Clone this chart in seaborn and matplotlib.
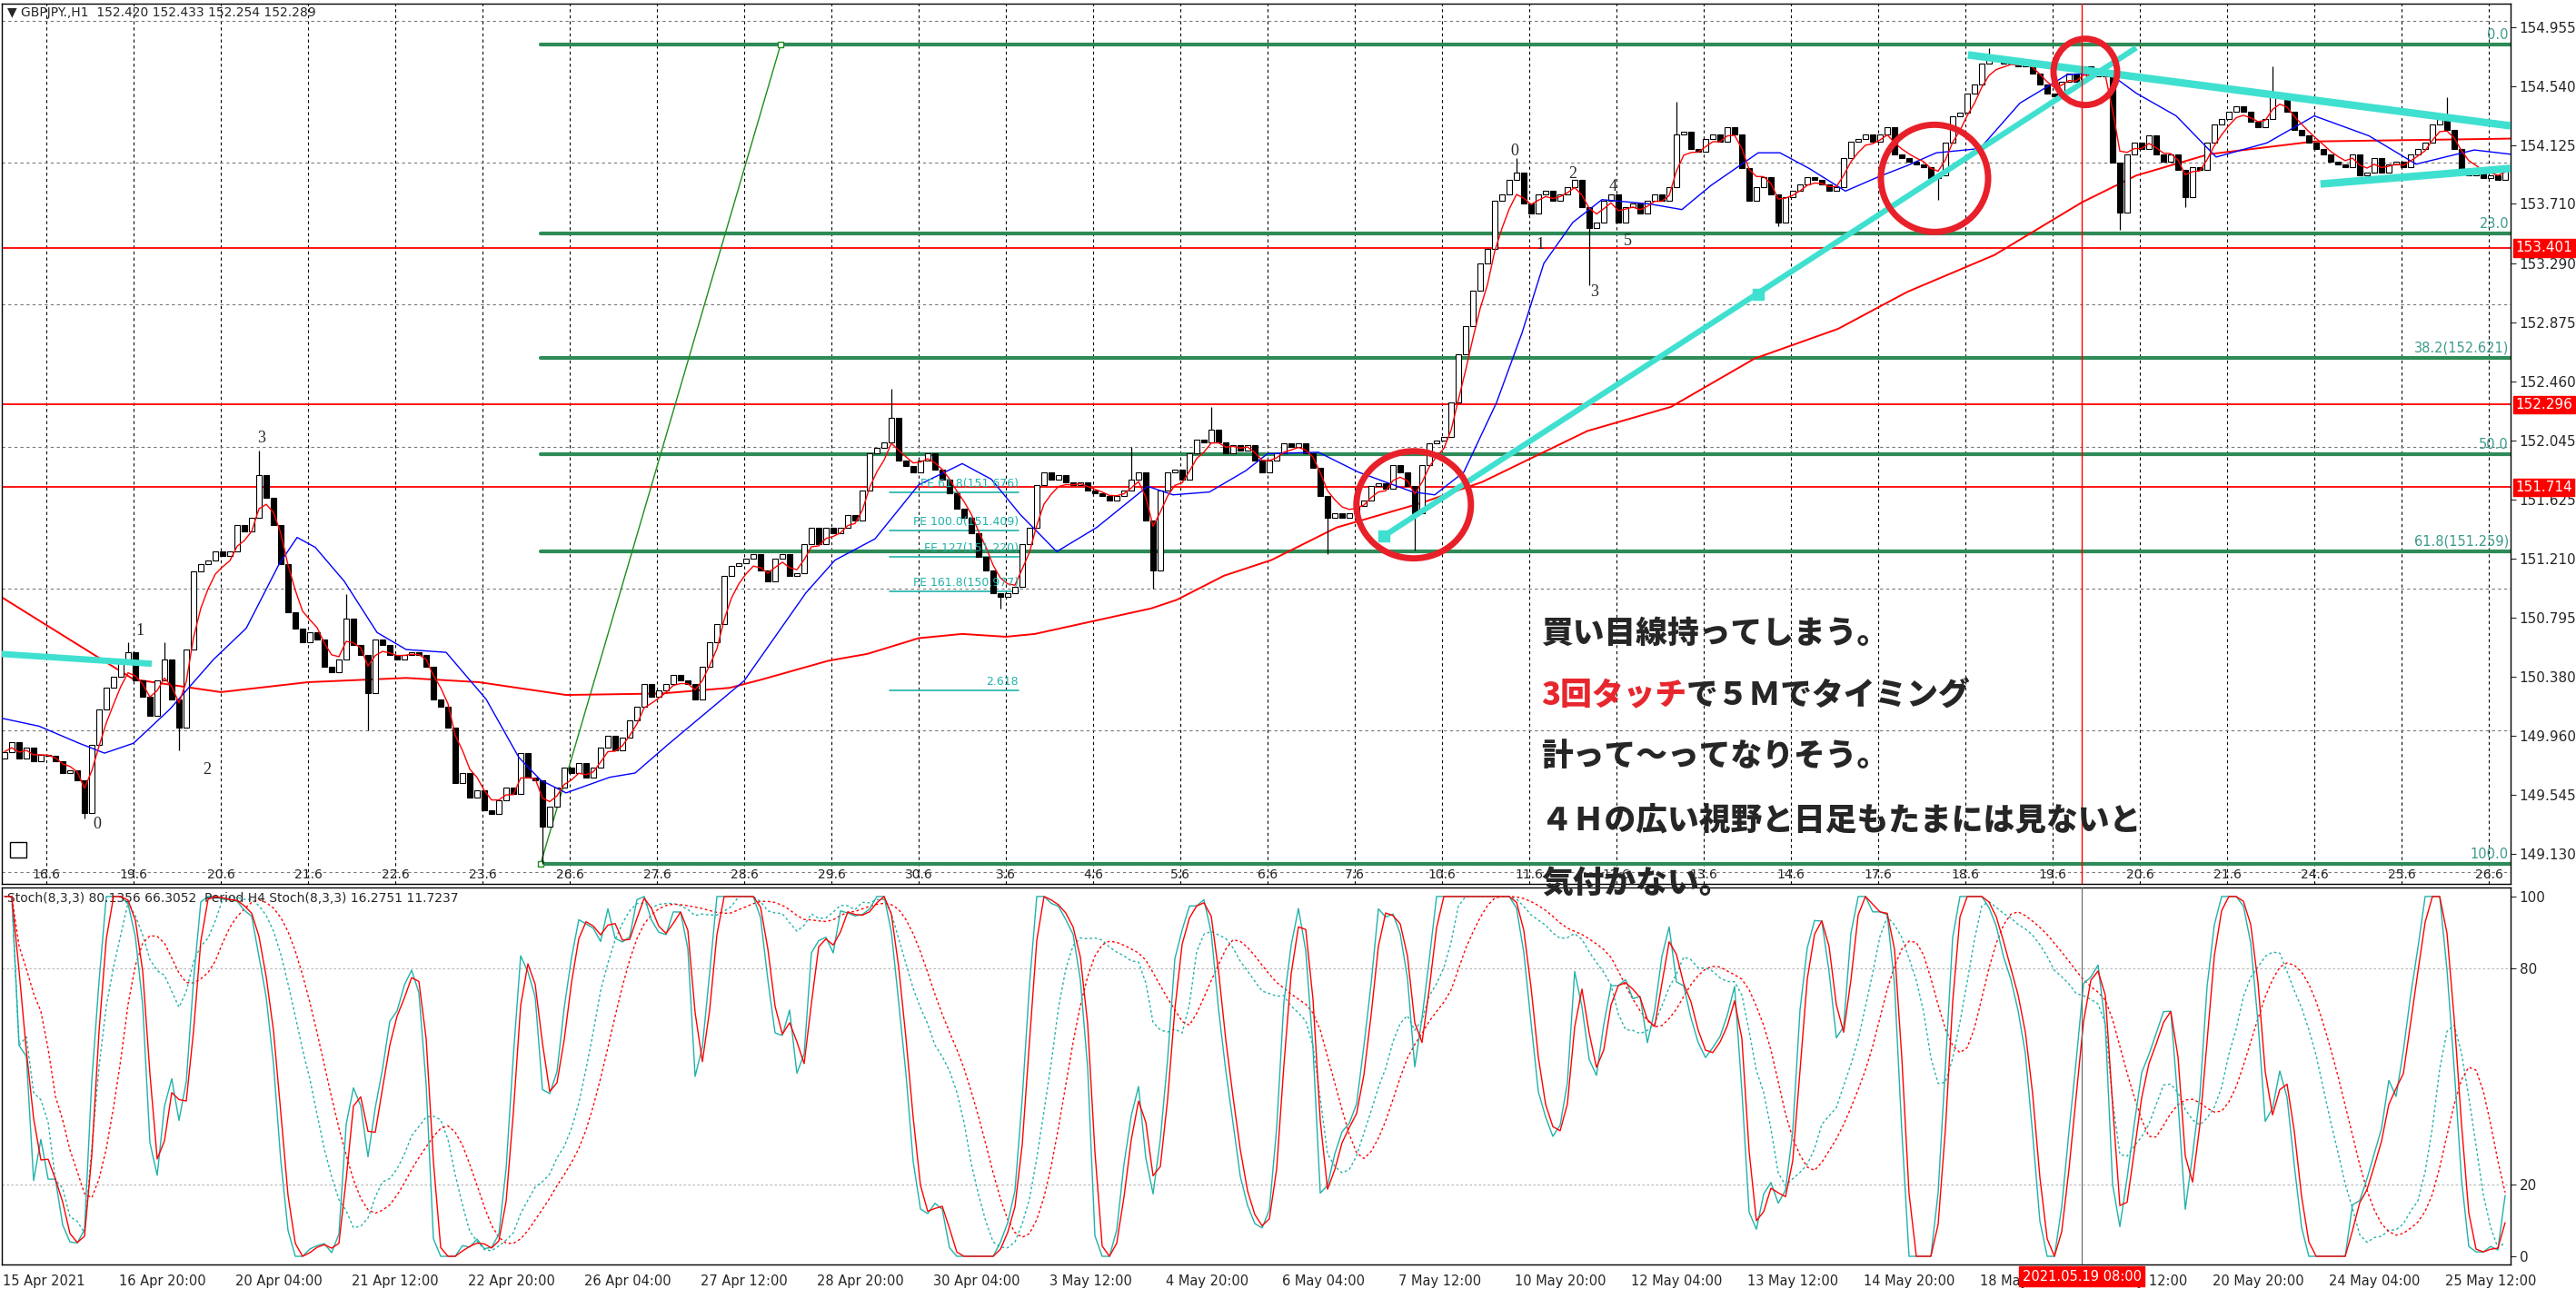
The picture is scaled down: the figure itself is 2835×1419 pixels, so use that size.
import numpy as np
import pandas as pd
import matplotlib
matplotlib.use("Agg")
import matplotlib.pyplot as plt
import seaborn as sns
from matplotlib.patches import Ellipse, Rectangle

first_open = 149.80
closes = [
    149.85, 149.92, 149.80, 149.88, 149.78, 149.83,
    149.82, 149.78, 149.70, 149.72, 149.65, 149.42, 149.90, 150.15, 150.30, 150.38, 150.50, 150.55,
    150.35, 150.24, 150.10, 150.35, 150.50, 150.22, 150.02, 150.57, 151.12, 151.17, 151.20, 151.26,
    151.23, 151.26, 151.45, 151.40, 151.50, 151.80, 151.64, 151.45, 151.17, 150.83, 150.72, 150.62,
    150.69, 150.64, 150.45, 150.41, 150.50, 150.79, 150.60, 150.53, 150.26, 150.64, 150.60, 150.53,
    150.50, 150.53, 150.55, 150.53, 150.45, 150.22, 150.17, 150.02, 149.63, 149.70, 149.53, 149.58,
    149.44, 149.41, 149.51, 149.60, 149.55, 149.84, 149.67, 149.65, 149.32, 149.46, 149.60, 149.74,
    149.70, 149.77, 149.67, 149.74, 149.88, 149.96, 149.86, 149.95, 150.07, 150.17, 150.33, 150.24,
    150.28, 150.33, 150.39, 150.35, 150.33, 150.22, 150.45, 150.62, 150.75, 151.09, 151.16, 151.18,
    151.21, 151.24, 151.13, 151.05, 151.21, 151.24, 151.09, 151.11, 151.31, 151.43, 151.31, 151.43,
    151.39, 151.43, 151.52, 151.48, 151.69, 151.95, 151.99, 152.03, 152.20, 151.90, 151.86, 151.82,
    151.90, 151.95, 151.84, 151.77, 151.67, 151.56, 151.50, 151.39, 151.22, 151.13, 150.97, 150.94,
    150.97, 151.01, 151.31, 151.43, 151.73, 151.82, 151.77, 151.80, 151.75, 151.73, 151.75, 151.69,
    151.67, 151.65, 151.62, 151.65, 151.69, 151.77, 151.82, 151.48, 151.13, 151.69, 151.82, 151.84,
    151.77, 151.95, 152.05, 152.03, 152.12, 152.03, 151.95, 152.01, 151.97, 152.01, 151.90, 151.82,
    151.90, 151.95, 152.02, 152.00, 152.02, 151.95, 151.85, 151.65, 151.50, 151.53, 151.50, 151.53,
    151.58, 151.62, 151.72, 151.74, 151.70, 151.87, 151.82, 151.72, 151.53, 151.87, 152.02, 152.04,
    152.07, 152.31, 152.65, 152.85, 153.10, 153.29, 153.39, 153.73, 153.78, 153.88, 153.93, 153.71,
    153.64, 153.78, 153.80, 153.73, 153.78, 153.83, 153.88, 153.69, 153.54, 153.58, 153.73, 153.78,
    153.58, 153.69, 153.71, 153.64, 153.73, 153.78, 153.73, 153.83, 154.20, 154.22, 154.10, 154.08,
    154.17, 154.20, 154.15, 154.25, 154.20, 153.96, 153.73, 153.83, 153.90, 153.78, 153.58, 153.76,
    153.80, 153.85, 153.90, 153.88, 153.85, 153.80, 153.83, 154.03, 154.15, 154.17, 154.20, 154.15,
    154.20, 154.25, 154.06, 154.03, 154.01, 153.99, 153.97, 153.89, 153.91, 154.14, 154.33, 154.35,
    154.49, 154.55, 154.70, 154.74, 154.72, 154.70, 154.72, 154.68, 154.72, 154.63, 154.55, 154.49,
    154.47, 154.57, 154.63, 154.57, 154.68, 154.61, 154.63, 154.61, 154.00, 153.65, 154.06, 154.14,
    154.10, 154.19, 154.06, 154.01, 154.06, 153.95, 153.76, 153.97, 153.95, 154.14, 154.27, 154.31,
    154.36, 154.40, 154.36, 154.29, 154.25, 154.31, 154.49, 154.47, 154.36, 154.23, 154.19, 154.14,
    154.10, 154.06, 154.01, 153.99, 153.97, 154.06, 153.91, 153.93, 154.03, 153.93, 153.99, 154.01,
    153.97, 154.06, 154.10, 154.14, 154.27, 154.31, 154.23, 154.10, 153.95, 153.91, 153.93, 153.89,
    153.91, 153.88, 153.97,
]
# long wicks (two-hour bar index -> price)
spike_high = {17: 150.62, 22: 150.62, 35: 151.97, 47: 150.96, 122: 152.41, 155: 152.00,
              166: 152.28, 208: 154.03, 230: 154.43, 273: 154.81, 312: 154.68, 336: 154.46}
spike_low = {11: 149.38, 24: 149.86, 50: 150.00, 74: 149.06, 137: 150.86, 158: 151.00,
             182: 151.24, 194: 151.27, 218: 153.14, 244: 153.55, 266: 153.74, 291: 153.53,
             300: 153.69}

# moving averages (H1 bar index, price)
blue_ma_bar = [-1, 10, 21, 28, 36, 46, 58, 67, 76, 81, 86, 94, 103, 111, 122, 133, 142, 148, 155,
               167, 174, 183, 204, 221, 229, 240, 252, 264, 272, 280, 290, 301, 315, 322, 332, 342,
               348, 362, 373, 388, 394, 402, 411, 418, 424, 432, 440, 453, 462, 470, 483, 489, 497,
               507, 516, 524, 532, 544, 555, 568, 579, 587, 598, 609, 623, 636, 651, 664, 680, 690]
blue_ma = [150.09, 150.03, 149.91, 149.84, 149.91, 150.15, 150.50, 150.72, 151.17, 151.36, 151.29,
           151.05, 150.69, 150.57, 150.55, 150.22, 149.81, 149.65, 149.56, 149.67, 149.70, 149.90,
           150.35, 150.97, 151.20, 151.35, 151.73, 151.88, 151.77, 151.52, 151.26, 151.43, 151.72,
           151.66, 151.68, 151.83, 151.95, 151.96, 151.82, 151.68, 151.66, 151.82, 152.31, 152.80,
           153.29, 153.58, 153.74, 153.71, 153.67, 153.84, 154.07, 154.07, 153.96, 153.80, 153.90,
           153.98, 154.07, 154.10, 154.42, 154.62, 154.64, 154.49, 154.33, 154.04, 154.14, 154.33,
           154.19, 153.99, 154.09, 154.06]
slow_ma_bar = [-1, 36, 60, 84, 111, 131, 155, 181, 200, 209, 227, 238, 252, 264, 276, 284, 300, 316,
               323, 336, 349, 367, 390, 407, 436, 459, 482, 505, 524, 548, 572, 587, 607, 636, 690]
slow_ma = [150.95, 150.36, 150.27, 150.34, 150.37, 150.34, 150.25, 150.26, 150.30, 150.36, 150.49,
           150.54, 150.65, 150.68, 150.66, 150.68, 150.77, 150.86, 150.92, 151.09, 151.20, 151.43,
           151.60, 151.75, 152.11, 152.28, 152.62, 152.83, 153.09, 153.35, 153.72, 153.91, 154.06,
           154.15, 154.17]

red_levels = [153.401, 152.296, 151.714]
fib_high, fib_low = 154.83, 149.06
fib_levels = [0.0, 23.0, 38.2, 50.0, 61.8, 100.0]
fib_labels = ["0.0", "23.0", "38.2(152.621)", "50.0", "61.8(151.259)", "100.0"]
fe_prices = [151.676, 151.409, 151.220, 150.977, 150.28]
fe_labels = ["FE 61.8(151.676)", "FE 100.0(151.409)", "FE 127(151.220)", "FE 161.8(150.977)", "2.618"]

price_ticks = [154.955, 154.540, 154.125, 153.710, 153.290, 152.875, 152.460, 152.045,
               151.625, 151.210, 150.795, 150.380, 149.960, 149.545, 149.130]
day_labels = ["16.6", "19.6", "20.6", "21.6", "22.6", "23.6", "26.6", "27.6", "28.6", "29.6", "30.6",
              "3.6", "4.6", "5.6", "6.6", "7.6", "10.6", "11.6", "12.6", "13.6", "14.6", "17.6",
              "18.6", "19.6", "20.6", "21.6", "24.6", "25.6", "26.6"]
time_labels = ["15 Apr 2021", "16 Apr 20:00", "20 Apr 04:00", "21 Apr 12:00", "22 Apr 20:00",
               "26 Apr 04:00", "27 Apr 12:00", "28 Apr 20:00", "30 Apr 04:00", "3 May 12:00",
               "4 May 20:00", "6 May 04:00", "7 May 12:00", "10 May 20:00", "12 May 04:00",
               "13 May 12:00", "14 May 20:00", "18 May 04:00", "19 May 12:00", "20 May 20:00",
               "24 May 04:00", "25 May 12:00"]
wave_left = [("0", 26, 149.34), ("1", 37.7, 150.70), ("2", 56.2, 149.72), ("3", 71.2, 152.06)]
wave_right = [("0", 416, 154.08), ("1", 423, 153.42), ("2", 432, 153.92), ("3", 438, 153.09),
              ("4", 443, 153.83), ("5", 447, 153.45)]
note_lines = ["買い目線持ってしまう。", None, "計って～ってなりそう。",
              "４Ｈの広い視野と日足もたまには見ないと", "気付かない。"]

W, H = 2835, 1419
sns.set_style("white")
plt.rcParams["font.family"] = ["DejaVu Sans"]
jp = ["Noto Sans CJK JP", "DejaVu Sans"]

# bars
c = pd.Series(closes)
o = c.shift(1).fillna(first_open)
body_lo = np.minimum(o, c)
hi = np.maximum(o, c).copy()
lo = body_lo.copy()
for j, v in spike_high.items():
    hi[j] = max(hi[j], v)
for j, v in spike_low.items():
    lo[j] = min(lo[j], v)
xs = 2 * np.arange(len(c)) + 0.5


def stoch(k, slow, d):
    ll = lo.rolling(k, min_periods=1).min()
    hh = hi.rolling(k, min_periods=1).max()
    num = (c - ll).rolling(slow, min_periods=1).sum()
    den = (hh - ll).rolling(slow, min_periods=1).sum()
    main = (100 * num / den.replace(0, np.nan)).fillna(50)
    return main, main.rolling(d, min_periods=1).mean()


st_main, st_sig = stoch(6, 3, 2)
h4_main, h4_sig = stoch(18, 6, 6)
fast_ma = c.ewm(span=4, adjust=False).mean()

fig = plt.figure(figsize=(W / 100, H / 100), dpi=100)
ax = fig.add_axes([2 / W, 1 - 973 / H, 2761 / W, 969 / H])
ax2 = fig.add_axes([2 / W, 1 - 1392 / H, 2761 / W, 415 / H])
for a in (ax, ax2):
    a.set_xlim(-0.25, 690)
    for s in a.spines.values():
        s.set_color("black")
        s.set_linewidth(1)
ax.set_ylim(148.919, 155.121)
ax2.set_ylim(-2.27, 102.5)

# grid
day_pos = [12 + 24 * k for k in range(len(day_labels))]
for p in day_pos:
    ax.axvline(p, color="black", lw=0.8, ls=(0, (3, 3)), zorder=0)
for p in range(149, 156):
    ax.axhline(p, color="#777777", lw=0.8, ls=(0, (3, 3)), zorder=0)
for p in (20, 80):
    ax2.axhline(p, color="#bbbbbb", lw=0.9, ls=(0, (2, 2)), zorder=0)
for lab, p in zip(day_labels, day_pos):
    ax.text(p, 0.003, lab, transform=ax.get_xaxis_transform(), ha="center", va="bottom",
            fontsize=10, zorder=6)

# levels
for p in red_levels:
    ax.axhline(p, color="red", lw=1.3, zorder=1)
for lv, lab in zip(fib_levels, fib_labels):
    p = fib_high - (fib_high - fib_low) * lv / 100
    ax.plot([148, 690], [p, p], color="#2e8b57", lw=3, zorder=1)
    ax.text(689.5, p + 0.02, lab, ha="right", va="bottom", fontsize=10.5, color="#3d9a8b", zorder=6)
for p, lab in zip(fe_prices, fe_labels):
    ax.plot([244, 279.5], [p, p], color="#20b2aa", lw=1.2, zorder=1)
    ax.text(279.5, p + 0.02, lab, ha="right", va="bottom", fontsize=9, color="#20b2aa", zorder=6)
ax.plot([148, 214], [fib_low, fib_high], color="#1a8f1a", lw=1, zorder=1)
ax.plot([148, 214], [fib_low, fib_high], ls="none", marker="s", ms=4, mfc="white",
        mec="#1a8f1a", zorder=2)

# candles
up = (c >= o).values
ax.vlines(xs, lo, hi, color="black", lw=0.9, zorder=3)
ax.bar(xs, np.maximum((c - o).abs(), 0.004), bottom=body_lo, width=1.5,
       color=np.where(up, "white", "black"), edgecolor="black", linewidth=0.8, zorder=4)

# moving averages
sns.lineplot(x=slow_ma_bar, y=slow_ma, ax=ax, color="red", lw=1.4, estimator=None, sort=False, zorder=2)
sns.lineplot(x=blue_ma_bar, y=blue_ma, ax=ax, color="blue", lw=1.0, estimator=None, sort=False, zorder=5)
sns.lineplot(x=xs, y=fast_ma.values, ax=ax, color="red", lw=1.0, estimator=None, sort=False, zorder=5)

# trend lines
cyan = "#40e0d0"
ax.plot([-1, 41], [150.54, 150.47], color=cyan, lw=5, solid_capstyle="butt", zorder=5)
ax.plot([380, 587], [151.37, 154.81], color=cyan, lw=4.5, solid_capstyle="butt", zorder=5)
ax.plot([380, 483], [151.37, 153.07], ls="none", marker="s", ms=8, color=cyan, zorder=5)
ax.plot([540.7, 690], [154.76, 154.26], color=cyan, lw=6, solid_capstyle="butt", zorder=5)
ax.plot([637.7, 690], [153.85, 153.96], color=cyan, lw=6, solid_capstyle="butt", zorder=5)

# circles
for (cx, cy, w, h) in [(388.2, 151.59, 31.5, 0.755), (531.5, 153.89, 29.5, 0.755), (573, 154.64, 17.5, 0.467)]:
    ax.add_patch(Ellipse((cx, cy), w, h, fill=False, ec="#e8202a", lw=5, zorder=7))

ax.axvline(572, color="red", lw=1, zorder=6)
ax2.axvline(572, color="#666666", lw=0.8, zorder=6)
ax.add_patch(Rectangle((2, 149.105), 4.5, 0.11, fill=False, ec="black", lw=1, zorder=6))

for lab, bx, py in wave_left + wave_right:
    ax.text(bx, py, lab, ha="center", va="center", fontsize=13, family="Liberation Serif", zorder=8)

# price axis
ax.yaxis.tick_right()
ax.set_yticks(price_ticks)
ax.set_yticklabels([f"{v:.3f}" for v in price_ticks])
ax.tick_params(axis="y", direction="out", length=4, pad=3, labelsize=11, right=True, left=False)
ax.set_xticks([])
for p in red_levels:
    ax.annotate(f"{p:.3f}", xy=(1, p), xycoords=("axes fraction", "data"), xytext=(4, 0),
                textcoords="offset points", ha="left", va="center", fontsize=11, color="white",
                bbox=dict(boxstyle="square,pad=0.15", fc="red", ec="red"), zorder=9,
                annotation_clip=False)

# stochastics
ax2.plot(xs, h4_main, color="#20b2aa", lw=1, ls=(0, (2, 2)), zorder=2)
ax2.plot(xs, h4_sig, color="red", lw=1, ls=(0, (2, 2)), zorder=2)
sns.lineplot(x=xs, y=st_main.values, ax=ax2, color="#20b2aa", lw=1, estimator=None, sort=False, zorder=3)
sns.lineplot(x=xs, y=st_sig.values, ax=ax2, color="red", lw=1, estimator=None, sort=False, zorder=4)
ax2.yaxis.tick_right()
ax2.set_yticks([0, 20, 80, 100])
ax2.tick_params(axis="y", direction="out", length=4, pad=3, labelsize=11, right=True, left=False)
ax2.set_xticks([32 * k for k in range(len(time_labels))])
ax2.set_xticklabels(time_labels, ha="left")
ax2.tick_params(axis="x", direction="out", length=5, pad=3, labelsize=10.5)
ax2.set_ylabel("")
ax.set_ylabel("")
ax2.text(0.002, 0.971, "Stoch(8,3,3) 80.1356 66.3052  Period H4 Stoch(8,3,3) 16.2751 11.7237",
         transform=ax2.transAxes, ha="left", va="center", fontsize=10)
ax.text(0.002, 1 - 10 / 969, "▼ GBPJPY.,H1  152.420 152.433 152.254 152.289",
        transform=ax.transAxes, ha="left", va="center", fontsize=10)
fig.text(2291 / W, 1 - 1405 / H, "2021.05.19 08:00", ha="center", va="center", fontsize=10.5,
         color="white", bbox=dict(boxstyle="square,pad=0.25", fc="red", ec="red"), zorder=10)

# note
note_y = [697, 765, 833, 903, 973]
note_kw = dict(ha="left", va="center", fontsize=25, weight="heavy", family=jp, zorder=10)
for txt, y in zip(note_lines, note_y):
    if txt:
        fig.text(1696 / W, 1 - y / H, txt, **note_kw)
t = fig.text(1696 / W, 1 - 765 / H, "3回タッチ", color="#e8262e", **note_kw)
fig.canvas.draw()
bb = t.get_window_extent()
fig.text(bb.x1 / W, 1 - 765 / H, "で５Ｍでタイミング", **note_kw)

fig.savefig("out.png", dpi=100, facecolor="white")
